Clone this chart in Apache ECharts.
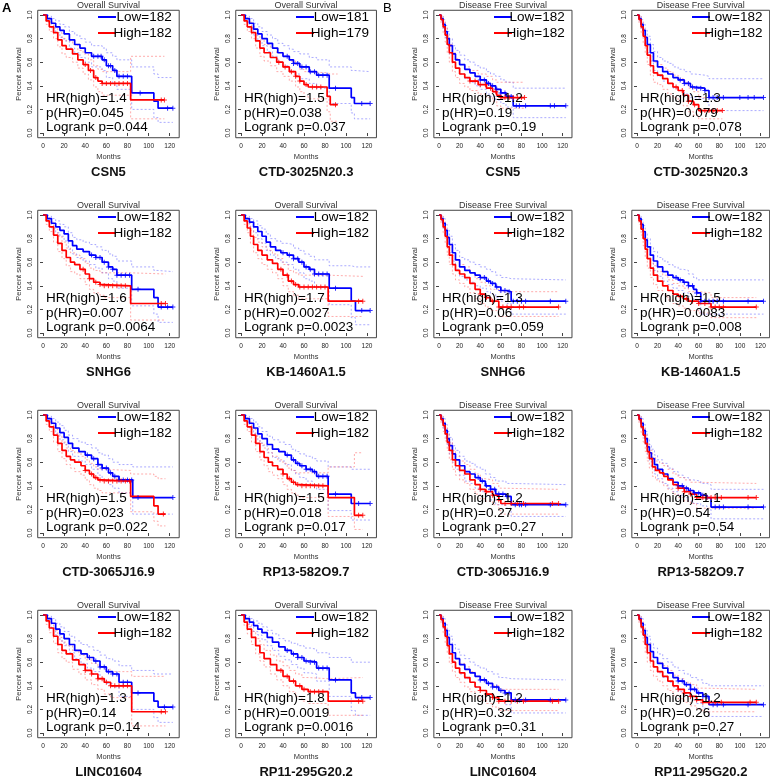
<!DOCTYPE html>
<html>
<head>
<meta charset="utf-8">
<script src="https://cdn.jsdelivr.net/npm/echarts@6/dist/echarts.min.js"></script>
<style>html,body{margin:0;padding:0;background:#fff}#main{width:770px;height:779px}</style>
</head>
<body>
<div id="main"></div>
<script>
// panel texts, row by row (A = overall survival, B = disease free survival)
var genes = ['CSN5','CTD-3025N20.3','CSN5','CTD-3025N20.3','SNHG6','KB-1460A1.5','SNHG6','KB-1460A1.5',
  'CTD-3065J16.9','RP13-582O9.7','CTD-3065J16.9','RP13-582O9.7','LINC01604','RP11-295G20.2','LINC01604','RP11-295G20.2'];
var lowN = [182,181,182,182,182,182,182,182,182,182,182,182,182,182,182,182];
var highN = [182,179,182,182,182,182,182,182,182,182,182,182,182,182,182,182];
var hr = ['1.4','1.5','1.2','1.3','1.6','1.7','1.3','1.5','1.5','1.5','1.2','1.1','1.3','1.8','1.2','1.2'];
var pHR = ['0.045','0.038','0.19','0.079','0.007','0.0027','0.06','0.0083','0.023','0.018','0.27','0.54','0.14','0.0019','0.32','0.26'];
var logrank = ['0.044','0.037','0.19','0.078','0.0064','0.0023','0.059','0.008','0.022','0.017','0.27','0.54','0.14','0.0016','0.31','0.27'];
var xTicks = [0,20,40,60,80,100,120];
var yTicks = [0,0.2,0.4,0.6,0.8,1.0];

// curves: [months, survival, lower CI, upper CI]; censor times
var os_csn5_low = [[0,1,1,1],[4,0.97,0.94,0.99],[8,0.93,0.89,0.97],[12,0.9,0.85,0.95],[16,0.87,0.81,0.92],[20,0.84,0.78,0.9],[25,0.79,0.72,0.86],[30,0.75,0.68,0.83],[35,0.72,0.64,0.8],[40,0.68,0.6,0.77],[46,0.65,0.56,0.74],[56,0.62,0.53,0.72],[60,0.57,0.47,0.68],[66,0.53,0.42,0.65],[70,0.48,0.37,0.62],[84,0.34,0.2,0.56],[105,0.27,0.13,0.5],[109,0.21,0.09,0.47],[123,0.21,0.09,0.47]];
var os_csn5_low_c = [48,52,55,58,62,64,68,72,76,80,92,118,123];
var os_csn5_high = [[0,1,1,1],[3,0.95,0.92,0.98],[6,0.9,0.86,0.94],[10,0.85,0.8,0.9],[14,0.79,0.73,0.85],[18,0.74,0.67,0.8],[22,0.71,0.64,0.78],[28,0.67,0.6,0.75],[33,0.62,0.55,0.7],[38,0.58,0.5,0.67],[43,0.53,0.45,0.62],[48,0.47,0.39,0.57],[52,0.44,0.35,0.54],[56,0.42,0.32,0.52],[83,0.28,0.12,0.65],[115,0.28,0.12,0.65]];
var os_csn5_high_c = [40,45,50,56,60,64,68,72,76,80,112,115];

var os_ctd3025_low = [[0,1,1,1],[4,0.97,0.94,0.99],[8,0.93,0.89,0.97],[12,0.88,0.83,0.93],[16,0.84,0.78,0.9],[20,0.8,0.74,0.86],[25,0.76,0.69,0.83],[30,0.72,0.65,0.8],[35,0.68,0.6,0.76],[40,0.65,0.57,0.74],[46,0.62,0.53,0.71],[50,0.59,0.5,0.69],[56,0.56,0.46,0.67],[65,0.52,0.42,0.64],[72,0.49,0.38,0.62],[84,0.38,0.25,0.56],[105,0.3,0.17,0.53],[108,0.25,0.12,0.52],[123,0.25,0.12,0.52]];
var os_ctd3025_low_c = [44,50,54,58,62,66,70,74,78,82,90,115,123];
var os_ctd3025_high = [[0,1,1,1],[3,0.95,0.92,0.98],[6,0.9,0.86,0.94],[10,0.85,0.8,0.9],[14,0.78,0.72,0.84],[18,0.72,0.65,0.79],[22,0.68,0.61,0.75],[28,0.64,0.57,0.72],[34,0.6,0.52,0.68],[40,0.56,0.48,0.65],[46,0.52,0.44,0.61],[52,0.48,0.39,0.58],[56,0.44,0.35,0.54],[60,0.41,0.31,0.52],[64,0.39,0.29,0.51],[82,0.31,0.18,0.5],[85,0.24,0.1,0.5],[92,0.24,0.1,0.5]];
var os_ctd3025_high_c = [36,42,48,52,56,62,68,72,76,90];

var dfs_csn5_low = [[0,1,1,1],[2,0.97,0.95,0.99],[4,0.92,0.88,0.96],[6,0.86,0.81,0.91],[8,0.8,0.74,0.86],[10,0.74,0.67,0.8],[13,0.67,0.6,0.74],[16,0.62,0.55,0.7],[20,0.58,0.5,0.66],[25,0.54,0.46,0.62],[30,0.51,0.43,0.6],[35,0.48,0.4,0.57],[40,0.45,0.37,0.55],[46,0.42,0.33,0.52],[50,0.4,0.31,0.5],[55,0.37,0.28,0.48],[60,0.34,0.25,0.45],[65,0.31,0.22,0.43],[72,0.23,0.13,0.38],[123,0.23,0.13,0.38]];
var dfs_csn5_low_c = [40,44,48,52,56,60,64,70,75,78,84,108,112,123];
var dfs_csn5_high = [[0,1,1,1],[2,0.96,0.93,0.99],[4,0.9,0.85,0.95],[6,0.83,0.77,0.89],[8,0.75,0.68,0.82],[10,0.68,0.6,0.75],[13,0.6,0.52,0.68],[16,0.55,0.47,0.63],[20,0.5,0.42,0.58],[25,0.47,0.39,0.56],[30,0.44,0.36,0.53],[38,0.41,0.33,0.5],[46,0.38,0.3,0.48],[52,0.35,0.27,0.45],[56,0.32,0.23,0.43],[60,0.3,0.21,0.43],[83,0.3,0.21,0.43]];
var dfs_csn5_high_c = [30,35,40,45,50,55,60,64,68,72,76,80,83];

var dfs_ctd3025_low = [[0,1,1,1],[2,0.97,0.95,0.99],[4,0.92,0.88,0.96],[6,0.87,0.82,0.92],[8,0.81,0.75,0.87],[10,0.75,0.68,0.82],[13,0.68,0.61,0.75],[16,0.61,0.53,0.69],[20,0.56,0.48,0.64],[25,0.52,0.44,0.61],[30,0.5,0.42,0.59],[35,0.47,0.38,0.56],[40,0.45,0.36,0.54],[46,0.42,0.33,0.52],[52,0.39,0.3,0.5],[56,0.38,0.29,0.49],[66,0.36,0.26,0.48],[70,0.3,0.19,0.46],[123,0.3,0.19,0.46]];
var dfs_ctd3025_low_c = [42,46,50,54,58,62,66,70,74,78,84,100,108,114,123];
var dfs_ctd3025_high = [[0,1,1,1],[2,0.96,0.93,0.99],[4,0.9,0.85,0.95],[6,0.82,0.76,0.88],[8,0.74,0.67,0.81],[10,0.66,0.58,0.74],[13,0.57,0.49,0.65],[16,0.51,0.43,0.6],[20,0.49,0.41,0.58],[25,0.46,0.37,0.55],[30,0.42,0.33,0.52],[35,0.39,0.3,0.49],[40,0.36,0.27,0.46],[45,0.32,0.23,0.43],[50,0.27,0.18,0.38],[55,0.24,0.15,0.35],[60,0.19,0.12,0.3],[83,0.19,0.12,0.3]];
var dfs_ctd3025_high_c = [38,44,50,56,62,66,70,74,78,83];

var os_snhg6_low = [[0,1,1,1],[4,0.97,0.94,0.99],[8,0.93,0.89,0.97],[12,0.9,0.85,0.95],[16,0.87,0.82,0.92],[20,0.84,0.78,0.9],[24,0.78,0.71,0.85],[28,0.74,0.67,0.81],[32,0.71,0.64,0.79],[38,0.69,0.61,0.77],[44,0.66,0.58,0.75],[50,0.64,0.55,0.73],[56,0.6,0.51,0.7],[62,0.56,0.46,0.67],[66,0.54,0.44,0.65],[70,0.49,0.38,0.61],[84,0.37,0.23,0.56],[105,0.3,0.16,0.53],[109,0.22,0.09,0.52],[123,0.22,0.09,0.52]];
var os_snhg6_low_c = [46,50,54,58,62,66,70,74,78,82,90,112,118,123];
var os_snhg6_high = [[0,1,1,1],[3,0.95,0.92,0.98],[6,0.9,0.86,0.94],[10,0.83,0.77,0.88],[14,0.76,0.69,0.82],[18,0.7,0.63,0.77],[22,0.64,0.57,0.72],[26,0.6,0.52,0.68],[30,0.58,0.5,0.66],[35,0.54,0.46,0.63],[40,0.5,0.41,0.59],[44,0.46,0.37,0.55],[48,0.43,0.34,0.53],[54,0.41,0.32,0.51],[58,0.4,0.3,0.51],[83,0.25,0.11,0.5],[116,0.25,0.11,0.5]];
var os_snhg6_high_c = [38,44,50,54,58,62,66,70,74,78,112,116];

var os_kb1460_low = [[0,1,1,1],[4,0.97,0.94,0.99],[8,0.94,0.9,0.97],[12,0.9,0.85,0.95],[16,0.86,0.8,0.91],[20,0.82,0.76,0.88],[24,0.77,0.7,0.84],[28,0.73,0.66,0.8],[33,0.7,0.63,0.78],[38,0.68,0.6,0.76],[44,0.66,0.58,0.75],[50,0.63,0.54,0.72],[55,0.6,0.51,0.7],[60,0.56,0.46,0.67],[65,0.54,0.44,0.65],[70,0.5,0.39,0.62],[84,0.38,0.24,0.57],[105,0.27,0.13,0.56],[109,0.19,0.07,0.56],[123,0.19,0.07,0.56]];
var os_kb1460_low_c = [40,46,50,54,58,62,66,70,74,78,82,90,115,123];
var os_kb1460_high = [[0,1,1,1],[3,0.95,0.92,0.98],[6,0.89,0.85,0.93],[9,0.82,0.76,0.87],[12,0.75,0.68,0.81],[16,0.7,0.63,0.77],[20,0.66,0.58,0.73],[25,0.62,0.54,0.7],[30,0.59,0.51,0.67],[35,0.54,0.46,0.63],[40,0.49,0.4,0.58],[45,0.44,0.35,0.53],[50,0.41,0.32,0.51],[55,0.39,0.29,0.49],[83,0.27,0.14,0.48],[116,0.27,0.14,0.48]];
var os_kb1460_high_c = [38,44,48,52,56,60,64,68,72,76,80,112,116];

var dfs_snhg6_low = [[0,1,1,1],[2,0.97,0.95,0.99],[4,0.93,0.89,0.97],[6,0.87,0.82,0.92],[8,0.81,0.75,0.87],[10,0.75,0.68,0.82],[13,0.68,0.61,0.75],[16,0.62,0.54,0.7],[20,0.56,0.48,0.64],[25,0.53,0.45,0.62],[30,0.51,0.43,0.6],[35,0.49,0.4,0.58],[40,0.47,0.38,0.56],[46,0.44,0.35,0.54],[50,0.42,0.33,0.52],[55,0.39,0.3,0.49],[60,0.36,0.27,0.47],[66,0.35,0.25,0.46],[70,0.27,0.16,0.45],[123,0.27,0.16,0.45]];
var dfs_snhg6_low_c = [40,44,48,52,56,60,64,68,72,76,80,84,108,123];
var dfs_snhg6_high = [[0,1,1,1],[2,0.96,0.93,0.99],[4,0.9,0.85,0.95],[6,0.82,0.76,0.88],[8,0.73,0.66,0.8],[10,0.66,0.58,0.74],[13,0.58,0.5,0.66],[16,0.53,0.45,0.62],[20,0.5,0.42,0.58],[25,0.47,0.39,0.56],[30,0.42,0.34,0.51],[35,0.37,0.29,0.46],[40,0.33,0.25,0.43],[45,0.3,0.22,0.4],[50,0.27,0.19,0.37],[58,0.22,0.14,0.35],[116,0.22,0.14,0.35]];
var dfs_snhg6_high_c = [40,46,52,58,62,66,70,78,82,116];

var dfs_kb1460_low = [[0,1,1,1],[2,0.97,0.95,0.99],[4,0.92,0.88,0.96],[6,0.86,0.81,0.91],[8,0.79,0.73,0.85],[10,0.73,0.66,0.8],[13,0.66,0.59,0.73],[16,0.61,0.53,0.69],[20,0.56,0.48,0.64],[25,0.52,0.44,0.61],[30,0.49,0.41,0.58],[35,0.47,0.38,0.56],[40,0.45,0.36,0.54],[45,0.43,0.34,0.53],[50,0.4,0.31,0.5],[55,0.37,0.28,0.47],[58,0.34,0.25,0.45],[62,0.27,0.16,0.45],[123,0.27,0.16,0.45]];
var dfs_kb1460_low_c = [38,42,46,50,54,58,62,66,70,74,78,84,108,123];
var dfs_kb1460_high = [[0,1,1,1],[2,0.95,0.92,0.98],[4,0.88,0.83,0.93],[6,0.8,0.74,0.86],[8,0.71,0.64,0.78],[10,0.63,0.55,0.71],[13,0.55,0.47,0.63],[16,0.49,0.41,0.57],[20,0.44,0.36,0.52],[25,0.4,0.32,0.49],[30,0.36,0.28,0.45],[35,0.33,0.25,0.42],[40,0.31,0.23,0.4],[45,0.29,0.21,0.38],[50,0.27,0.19,0.35],[60,0.25,0.17,0.34],[72,0.22,0.13,0.3],[116,0.22,0.13,0.3]];
var dfs_kb1460_high_c = [42,48,54,60,66,72,76,80,84,116];

var os_ctd3065_low = [[0,1,1,1],[4,0.97,0.94,0.99],[8,0.93,0.89,0.97],[12,0.89,0.84,0.94],[16,0.85,0.79,0.91],[20,0.81,0.75,0.87],[24,0.76,0.69,0.83],[28,0.72,0.65,0.8],[34,0.69,0.61,0.77],[40,0.66,0.58,0.75],[46,0.63,0.54,0.72],[52,0.58,0.49,0.68],[56,0.55,0.45,0.66],[62,0.51,0.41,0.63],[66,0.48,0.38,0.6],[72,0.45,0.34,0.58],[85,0.3,0.16,0.56],[123,0.3,0.16,0.56]];
var os_ctd3065_low_c = [42,48,52,56,60,64,68,72,76,80,84,90,123];
var os_ctd3065_high = [[0,1,1,1],[3,0.95,0.92,0.98],[6,0.9,0.86,0.94],[10,0.83,0.77,0.88],[14,0.76,0.69,0.82],[18,0.7,0.63,0.77],[22,0.65,0.58,0.72],[26,0.62,0.55,0.7],[30,0.6,0.52,0.68],[36,0.57,0.49,0.65],[40,0.53,0.45,0.62],[44,0.5,0.41,0.59],[48,0.47,0.38,0.56],[52,0.45,0.36,0.54],[56,0.44,0.34,0.53],[83,0.31,0.18,0.5],[105,0.23,0.1,0.48],[109,0.16,0.06,0.46],[116,0.16,0.06,0.46]];
var os_ctd3065_high_c = [40,46,50,54,58,62,66,70,74,78,82,114];

var os_rp13_low = [[0,1,1,1],[4,0.97,0.94,0.99],[8,0.93,0.89,0.97],[12,0.89,0.84,0.94],[16,0.84,0.78,0.9],[20,0.8,0.74,0.86],[25,0.75,0.68,0.82],[30,0.71,0.64,0.79],[36,0.69,0.61,0.77],[42,0.66,0.58,0.75],[48,0.62,0.53,0.71],[52,0.59,0.5,0.69],[56,0.57,0.47,0.67],[62,0.54,0.44,0.65],[68,0.52,0.41,0.63],[72,0.48,0.37,0.61],[83,0.33,0.19,0.56],[105,0.25,0.11,0.54],[123,0.25,0.11,0.54]];
var os_rp13_low_c = [44,50,54,58,62,66,70,74,78,82,90,112,123];
var os_rp13_high = [[0,1,1,1],[3,0.95,0.92,0.98],[6,0.9,0.86,0.94],[10,0.83,0.77,0.88],[14,0.76,0.69,0.82],[18,0.69,0.62,0.76],[22,0.64,0.57,0.72],[26,0.6,0.52,0.68],[30,0.57,0.49,0.65],[35,0.54,0.46,0.62],[40,0.5,0.41,0.59],[44,0.46,0.37,0.55],[48,0.43,0.34,0.53],[52,0.41,0.32,0.51],[56,0.4,0.3,0.51],[83,0.3,0.14,0.56],[108,0.15,0.03,0.68],[116,0.15,0.03,0.68]];
var os_rp13_high_c = [40,46,50,54,58,62,66,70,74,78,112,116];

var dfs_ctd3065_low = [[0,1,1,1],[2,0.97,0.95,0.99],[4,0.93,0.89,0.97],[6,0.87,0.82,0.92],[8,0.8,0.74,0.86],[10,0.74,0.67,0.81],[13,0.67,0.6,0.74],[16,0.62,0.54,0.7],[20,0.57,0.49,0.65],[25,0.52,0.44,0.61],[30,0.5,0.42,0.59],[35,0.47,0.38,0.56],[40,0.44,0.35,0.54],[45,0.4,0.31,0.5],[50,0.37,0.28,0.47],[55,0.33,0.24,0.44],[65,0.31,0.21,0.42],[70,0.24,0.14,0.41],[123,0.24,0.14,0.41]];
var dfs_ctd3065_low_c = [38,42,46,50,54,58,62,66,74,78,80,84,108,123];
var dfs_ctd3065_high = [[0,1,1,1],[2,0.96,0.93,0.99],[4,0.91,0.86,0.95],[6,0.84,0.78,0.9],[8,0.77,0.7,0.84],[10,0.7,0.62,0.77],[13,0.62,0.54,0.7],[16,0.57,0.49,0.65],[20,0.53,0.45,0.61],[25,0.5,0.42,0.58],[30,0.45,0.37,0.54],[35,0.41,0.33,0.5],[40,0.37,0.29,0.46],[45,0.35,0.27,0.45],[52,0.32,0.24,0.42],[58,0.28,0.19,0.38],[60,0.25,0.16,0.37],[116,0.25,0.16,0.37]];
var dfs_ctd3065_high_c = [40,46,52,58,64,70,76,82,110,116];

var dfs_rp13_low = [[0,1,1,1],[2,0.97,0.95,0.99],[4,0.93,0.89,0.97],[6,0.87,0.82,0.92],[8,0.8,0.74,0.86],[10,0.73,0.66,0.8],[12,0.68,0.61,0.75],[14,0.63,0.56,0.71],[17,0.58,0.5,0.66],[20,0.54,0.46,0.62],[25,0.5,0.42,0.59],[30,0.46,0.38,0.55],[35,0.43,0.35,0.52],[40,0.4,0.32,0.49],[45,0.38,0.3,0.47],[50,0.36,0.27,0.45],[55,0.34,0.25,0.44],[62,0.32,0.23,0.42],[68,0.3,0.2,0.41],[72,0.22,0.12,0.37],[123,0.22,0.12,0.37]];
var dfs_rp13_low_c = [40,44,48,52,56,60,64,68,76,80,84,108,123];
var dfs_rp13_high = [[0,1,1,1],[2,0.96,0.93,0.99],[4,0.9,0.85,0.95],[6,0.83,0.77,0.89],[8,0.76,0.69,0.83],[10,0.69,0.61,0.76],[12,0.63,0.55,0.7],[15,0.56,0.48,0.64],[18,0.53,0.45,0.61],[22,0.51,0.43,0.59],[26,0.48,0.4,0.57],[30,0.45,0.37,0.54],[35,0.41,0.33,0.5],[40,0.38,0.3,0.47],[46,0.35,0.27,0.45],[52,0.33,0.25,0.43],[58,0.3,0.21,0.42],[116,0.3,0.21,0.42]];
var dfs_rp13_high_c = [40,46,52,58,64,68,72,76,82,108,116];

var os_linc_low = [[0,1,1,1],[4,0.97,0.94,0.99],[8,0.93,0.89,0.97],[12,0.88,0.83,0.93],[16,0.84,0.78,0.9],[20,0.8,0.74,0.86],[25,0.75,0.68,0.82],[30,0.7,0.63,0.78],[36,0.67,0.59,0.75],[42,0.64,0.55,0.73],[48,0.61,0.52,0.7],[54,0.56,0.46,0.66],[60,0.52,0.42,0.63],[66,0.5,0.39,0.61],[72,0.43,0.31,0.57],[84,0.34,0.2,0.53],[105,0.27,0.13,0.5],[109,0.22,0.09,0.5],[123,0.22,0.09,0.5]];
var os_linc_low_c = [44,50,54,58,62,66,70,76,80,90,115,123];
var os_linc_high = [[0,1,1,1],[3,0.95,0.92,0.98],[6,0.89,0.85,0.93],[10,0.82,0.76,0.87],[14,0.75,0.68,0.81],[18,0.7,0.63,0.77],[22,0.67,0.6,0.74],[28,0.62,0.54,0.7],[34,0.58,0.5,0.66],[40,0.53,0.45,0.62],[46,0.5,0.41,0.59],[52,0.46,0.37,0.56],[58,0.43,0.33,0.54],[64,0.4,0.3,0.52],[84,0.18,0.06,0.48],[116,0.18,0.06,0.48]];
var os_linc_high_c = [40,46,52,56,60,64,68,72,76,80,112,116];

var os_rp11_low = [[0,1,1,1],[4,0.97,0.94,0.99],[8,0.94,0.9,0.97],[12,0.91,0.86,0.95],[16,0.88,0.83,0.93],[20,0.85,0.79,0.9],[25,0.81,0.74,0.87],[30,0.77,0.7,0.84],[36,0.73,0.65,0.8],[42,0.7,0.62,0.78],[48,0.67,0.58,0.76],[54,0.64,0.55,0.74],[60,0.61,0.51,0.72],[66,0.6,0.5,0.71],[72,0.55,0.44,0.68],[84,0.45,0.31,0.64],[105,0.34,0.19,0.6],[109,0.3,0.15,0.6],[123,0.3,0.15,0.6]];
var os_rp11_low_c = [44,50,54,58,62,66,70,74,78,82,90,115,123];
var os_rp11_high = [[0,1,1,1],[3,0.94,0.91,0.97],[6,0.88,0.84,0.92],[10,0.81,0.75,0.86],[14,0.74,0.67,0.8],[18,0.68,0.61,0.75],[22,0.63,0.56,0.7],[28,0.58,0.5,0.66],[34,0.53,0.45,0.61],[40,0.48,0.4,0.57],[46,0.44,0.35,0.53],[52,0.4,0.31,0.5],[58,0.37,0.27,0.47],[64,0.35,0.25,0.46],[83,0.27,0.15,0.47],[116,0.27,0.15,0.47]];
var os_rp11_high_c = [38,44,50,56,60,66,70,74,78,112,116];

var dfs_linc_low = [[0,1,1,1],[2,0.97,0.95,0.99],[4,0.93,0.89,0.97],[6,0.87,0.82,0.92],[8,0.81,0.75,0.87],[10,0.75,0.68,0.82],[13,0.68,0.61,0.75],[16,0.63,0.55,0.71],[20,0.58,0.5,0.66],[25,0.54,0.46,0.63],[30,0.51,0.43,0.6],[35,0.48,0.39,0.57],[40,0.45,0.36,0.55],[46,0.42,0.33,0.52],[52,0.39,0.3,0.5],[58,0.36,0.27,0.47],[64,0.34,0.24,0.46],[70,0.28,0.17,0.45],[123,0.28,0.17,0.45]];
var dfs_linc_low_c = [40,44,48,52,56,60,64,68,74,78,84,108,123];
var dfs_linc_high = [[0,1,1,1],[2,0.96,0.93,0.99],[4,0.9,0.85,0.95],[6,0.82,0.76,0.88],[8,0.74,0.67,0.81],[10,0.67,0.59,0.75],[13,0.6,0.52,0.68],[16,0.55,0.47,0.63],[20,0.51,0.43,0.59],[25,0.47,0.39,0.56],[30,0.43,0.35,0.52],[35,0.39,0.31,0.48],[40,0.36,0.28,0.45],[46,0.33,0.25,0.42],[52,0.3,0.22,0.4],[58,0.27,0.19,0.37],[116,0.27,0.19,0.37]];
var dfs_linc_high_c = [40,46,52,58,64,70,76,82,110,116];

var dfs_rp11_low = [[0,1,1,1],[2,0.97,0.95,0.99],[4,0.93,0.89,0.97],[6,0.87,0.82,0.92],[8,0.81,0.75,0.87],[10,0.75,0.68,0.82],[13,0.69,0.62,0.76],[16,0.64,0.56,0.72],[20,0.59,0.51,0.67],[25,0.55,0.47,0.63],[30,0.51,0.43,0.6],[35,0.47,0.39,0.56],[40,0.44,0.35,0.53],[46,0.41,0.32,0.5],[52,0.37,0.28,0.47],[58,0.34,0.25,0.45],[64,0.31,0.21,0.42],[70,0.24,0.14,0.4],[123,0.24,0.14,0.4]];
var dfs_rp11_low_c = [40,44,48,52,56,60,64,68,74,78,84,108,123];
var dfs_rp11_high = [[0,1,1,1],[2,0.96,0.93,0.99],[4,0.9,0.85,0.95],[6,0.83,0.77,0.89],[8,0.75,0.68,0.82],[10,0.68,0.6,0.76],[13,0.61,0.53,0.69],[16,0.56,0.48,0.64],[20,0.52,0.44,0.6],[25,0.48,0.4,0.57],[30,0.44,0.36,0.53],[35,0.4,0.32,0.49],[40,0.37,0.29,0.46],[46,0.34,0.26,0.43],[52,0.31,0.23,0.41],[58,0.28,0.2,0.38],[64,0.26,0.18,0.37],[116,0.26,0.18,0.37]];
var dfs_rp11_high_c = [40,46,52,58,64,70,76,82,110,116];

var panels = [
  [os_csn5_low, os_csn5_low_c, os_csn5_high, os_csn5_high_c],
  [os_ctd3025_low, os_ctd3025_low_c, os_ctd3025_high, os_ctd3025_high_c],
  [dfs_csn5_low, dfs_csn5_low_c, dfs_csn5_high, dfs_csn5_high_c],
  [dfs_ctd3025_low, dfs_ctd3025_low_c, dfs_ctd3025_high, dfs_ctd3025_high_c],
  [os_snhg6_low, os_snhg6_low_c, os_snhg6_high, os_snhg6_high_c],
  [os_kb1460_low, os_kb1460_low_c, os_kb1460_high, os_kb1460_high_c],
  [dfs_snhg6_low, dfs_snhg6_low_c, dfs_snhg6_high, dfs_snhg6_high_c],
  [dfs_kb1460_low, dfs_kb1460_low_c, dfs_kb1460_high, dfs_kb1460_high_c],
  [os_ctd3065_low, os_ctd3065_low_c, os_ctd3065_high, os_ctd3065_high_c],
  [os_rp13_low, os_rp13_low_c, os_rp13_high, os_rp13_high_c],
  [dfs_ctd3065_low, dfs_ctd3065_low_c, dfs_ctd3065_high, dfs_ctd3065_high_c],
  [dfs_rp13_low, dfs_rp13_low_c, dfs_rp13_high, dfs_rp13_high_c],
  [os_linc_low, os_linc_low_c, os_linc_high, os_linc_high_c],
  [os_rp11_low, os_rp11_low_c, os_rp11_high, os_rp11_high_c],
  [dfs_linc_low, dfs_linc_low_c, dfs_linc_high, dfs_linc_high_c],
  [dfs_rp11_low, dfs_rp11_low_c, dfs_rp11_high, dfs_rp11_high_c]
];

// layout
var colX0 = [43, 241, 439, 637];        // pixel of month 0
var colW120 = [126.7, 126, 123.7, 123.4]; // pixels for 120 months
var rowY1 = [15, 215, 415, 615];        // pixel of survival 1.0
var yH = 118;
var FONT = '"Liberation Sans", Arial, sans-serif';
var plus = 'path://M4,0h2v4h4v2h-4v4h-2v-4h-4v-2h4z';

function stepAt(curve, t) {
  var s = 1;
  for (var k = 0; k < curve.length; k++) { if (curve[k][0] <= t) s = curve[k][1]; }
  return s;
}

var grids = [], xAxes = [], yAxes = [], series = [], graphics = [];

function addCurve(i, curve, cens, color, light) {
  [2, 3].forEach(function (k) {
    series.push({
      type: 'line', xAxisIndex: i, yAxisIndex: i, step: 'end', showSymbol: false, silent: true, z: 2,
      lineStyle: { color: light, width: 1, type: [2, 2] },
      data: curve.map(function (p) { return [p[0], p[k]]; })
    });
  });
  series.push({
    type: 'line', xAxisIndex: i, yAxisIndex: i, step: 'end', showSymbol: false, silent: true, z: 3,
    lineStyle: { color: color, width: 1.7 },
    data: curve.map(function (p) { return [p[0], p[1]]; })
  });
  series.push({
    type: 'scatter', xAxisIndex: i, yAxisIndex: i, silent: true, z: 4,
    symbol: plus, symbolSize: 5, itemStyle: { color: color },
    data: cens.map(function (t) { return [t, stepAt(curve, t)]; })
  });
}

panels.forEach(function (p, i) {
  var c = i % 4, r = Math.floor(i / 4);
  var x0 = colX0[c], ppm = colW120[c] / 120, y1 = rowY1[r];
  var left = x0 - 5 * ppm, width = 134 * ppm, top = y1 - 0.04 * yH, height = 1.08 * yH;
  grids.push({ left: left, top: top, width: width, height: height, show: true,
    borderColor: '#444', borderWidth: 1, backgroundColor: 'transparent' });
  xAxes.push({
    type: 'value', gridIndex: i, min: -5, max: 129,
    name: 'Months', nameLocation: 'middle', nameGap: 15,
    nameTextStyle: { fontSize: 7.5, color: '#333', fontFamily: FONT },
    axisLine: { show: false }, splitLine: { show: false },
    axisTick: { show: true, length: 3, customValues: xTicks, lineStyle: { color: '#444' } },
    axisLabel: { customValues: xTicks, fontSize: 6.5, color: '#222', margin: 5, fontFamily: FONT }
  });
  yAxes.push({
    type: 'value', gridIndex: i, min: -0.04, max: 1.04,
    name: 'Percent survival', nameLocation: 'middle', nameGap: 15, nameRotate: 90,
    nameTextStyle: { fontSize: 7.5, color: '#333', fontFamily: FONT },
    axisLine: { show: false }, splitLine: { show: false },
    axisTick: { show: true, length: 3, customValues: yTicks, lineStyle: { color: '#444' } },
    axisLabel: { customValues: yTicks, rotate: 90, fontSize: 6.5, color: '#222', margin: 4, fontFamily: FONT,
      formatter: function (v) { return v.toFixed(1); } }
  });
  addCurve(i, p[0], p[1], '#0000ff', 'rgba(90,90,255,0.5)');
  addCurve(i, p[2], p[3], '#ff0000', 'rgba(255,90,90,0.5)');

  var xr = x0 + colW120[c] + 2;
  graphics.push(
    { type: 'text', z: 10, style: { text: c < 2 ? 'Overall Survival' : 'Disease Free Survival', x: left + width / 2, y: y1 - 9.5,
      textAlign: 'center', textVerticalAlign: 'middle', font: '9px ' + FONT, fill: '#333' } },
    { type: 'text', z: 10, style: { text: genes[i], x: left + width / 2, y: y1 + 157,
      textAlign: 'center', textVerticalAlign: 'middle', font: 'bold 13px ' + FONT, fill: '#111' } },
    { type: 'line', z: 10, shape: { x1: x0 + 55, y1: y1 + 2, x2: x0 + 73, y2: y1 + 2 }, style: { stroke: '#0000ff', lineWidth: 2 } },
    { type: 'line', z: 10, shape: { x1: x0 + 55, y1: y1 + 18, x2: x0 + 73, y2: y1 + 18 }, style: { stroke: '#ff0000', lineWidth: 2 } },
    { type: 'text', z: 11, style: { text: 'Low=' + lowN[i], x: xr, y: y1 + 2.5, textAlign: 'right', textVerticalAlign: 'middle', font: '13.5px ' + FONT, fill: '#000' } },
    { type: 'text', z: 11, style: { text: 'High=' + highN[i], x: xr, y: y1 + 18.5, textAlign: 'right', textVerticalAlign: 'middle', font: '13.5px ' + FONT, fill: '#000' } },
    { type: 'text', z: 11, style: { text: 'HR(high)=' + hr[i], x: x0 + 3, y: y1 + 83.5, textVerticalAlign: 'middle', font: '13.5px ' + FONT, fill: '#000' } },
    { type: 'text', z: 11, style: { text: 'p(HR)=' + pHR[i], x: x0 + 3, y: y1 + 98, textVerticalAlign: 'middle', font: '13.5px ' + FONT, fill: '#000' } },
    { type: 'text', z: 11, style: { text: 'Logrank p=' + logrank[i], x: x0 + 3, y: y1 + 112.5, textVerticalAlign: 'middle', font: '13.5px ' + FONT, fill: '#000' } }
  );
});

graphics.push(
  { type: 'text', z: 11, style: { text: 'A', x: 2, y: 2, font: 'bold 13px ' + FONT, fill: '#000' } },
  { type: 'text', z: 11, style: { text: 'B', x: 383, y: 2, font: '13px ' + FONT, fill: '#000' } }
);

var myChart = echarts.init(document.getElementById('main'));
myChart.setOption({
  animation: false,
  backgroundColor: '#fff',
  grid: grids,
  xAxis: xAxes,
  yAxis: yAxes,
  series: series,
  graphic: graphics
});
</script>
</body>
</html>
